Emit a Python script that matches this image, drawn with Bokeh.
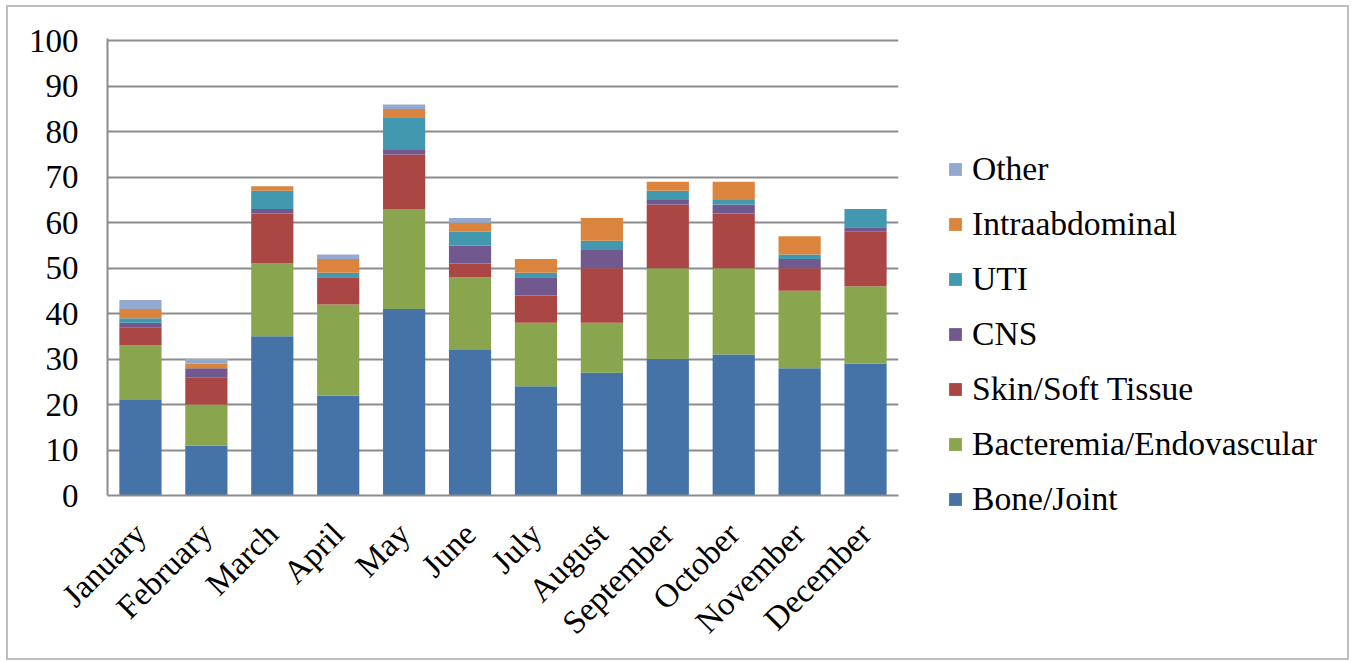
import math
from bokeh.plotting import figure
from bokeh.models import FactorRange, Range1d, FixedTicker, Legend, LegendItem
from bokeh.embed import file_html
from bokeh.resources import INLINE

months = ["January", "February", "March", "April", "May", "June", "July",
          "August", "September", "October", "November", "December"]
bone_joint = [21, 11, 35, 22, 41, 32, 24, 27, 30, 31, 28, 29]
bacteremia = [12, 9, 16, 20, 22, 16, 14, 11, 20, 19, 17, 17]
skin_soft = [4, 6, 11, 6, 12, 3, 6, 12, 14, 12, 5, 12]
cns = [1, 2, 1, 0, 1, 4, 4, 4, 1, 2, 2, 1]
uti = [1, 0, 4, 1, 7, 3, 1, 2, 2, 1, 1, 4]
intraabdominal = [2, 1, 1, 3, 2, 2, 3, 5, 2, 4, 4, 0]
other = [2, 1, 0, 1, 1, 1, 0, 0, 0, 0, 0, 0]

series_names = ["Bone/Joint", "Bacteremia/Endovascular", "Skin/Soft Tissue",
                "CNS", "UTI", "Intraabdominal", "Other"]
series_values = [bone_joint, bacteremia, skin_soft, cns, uti, intraabdominal, other]
colors = ["#4572A7", "#89A54E", "#AA4643", "#71588F", "#4198AF", "#DB843D", "#93A9CF"]
y_ticks = list(range(0, 101, 10))

FONT = "Liberation Serif"

data = {"month": months}
for name, vals in zip(series_names, series_values):
    data[name] = vals

p = figure(x_range=FactorRange(factors=months, range_padding=0),
           y_range=Range1d(0, 100.5),
           frame_width=791, frame_height=457,
           output_backend="svg", toolbar_location=None,
           min_border_left=99, min_border_right=0, min_border_top=31,
           min_border_bottom=163)
p.margin = (5, 0, 0, 6)
p.styles = {"border": "2px solid #BDBDBD", "width": "1343px", "height": "655px",
            "overflow": "hidden"}

renderers = p.vbar_stack(series_names, x="month", width=0.64, source=data,
                         color=colors, line_color=None)

p.outline_line_color = None
p.background_fill_color = "white"
p.border_fill_color = "white"

p.xgrid.grid_line_color = None
p.ygrid.grid_line_color = "#8C8C8C"
p.ygrid.grid_line_width = 2
p.ygrid.ticker = FixedTicker(ticks=y_ticks)

p.yaxis.ticker = FixedTicker(ticks=y_ticks)
p.yaxis.axis_line_color = "#8C8C8C"
p.yaxis.axis_line_width = 2
p.yaxis.major_tick_line_color = None
p.yaxis.minor_tick_line_color = None
p.yaxis.major_label_standoff = 23
p.yaxis.major_label_text_font = FONT
p.yaxis.major_label_text_font_size = "33px"
p.yaxis.major_label_text_color = "black"

p.xaxis.axis_line_color = "#8C8C8C"
p.xaxis.axis_line_width = 2
p.xaxis.major_tick_line_color = None
p.xaxis.minor_tick_line_color = None
p.xaxis.major_label_orientation = math.pi / 4
p.xaxis.major_label_standoff = 27
p.xaxis.major_label_text_font = FONT
p.xaxis.major_label_text_font_size = "33px"
p.xaxis.major_label_text_color = "black"

items = [LegendItem(label=n, renderers=[r]) for n, r in zip(series_names, renderers)]
items.reverse()
legend = Legend(items=items, location=(49, -31), orientation="vertical",
                glyph_width=16, glyph_height=16, label_height=55, spacing=0,
                padding=0, margin=0, label_standoff=9,
                label_text_font=FONT, label_text_font_size="33.6px",
                label_text_color="black", border_line_color=None,
                background_fill_alpha=0)
p.add_layout(legend, "right")

open("out.html", "w").write(file_html(p, INLINE))
